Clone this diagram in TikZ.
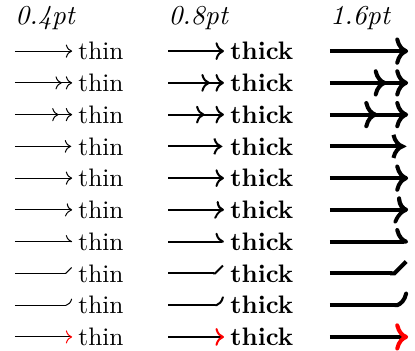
\documentclass[tikz,border=0pt]{standalone}
\usetikzlibrary{positioning, arrows.meta}

\begin{document}
\begin{tikzpicture}[
        x=1pt, y=1pt,
        head/.style={font=\fontsize{10.8}{13}\selectfont\itshape, anchor=west, inner sep=0pt},
        tiplabel/.style={anchor=west, inner sep=2.3pt}
    ]

        \useasboundingbox (0,0) rectangle (164,-138.7);

        \node[head] (w1) at (5.9,-7.1) {0.4pt};
        \node[head] (w2) at (66.4,-7.1) {0.8pt};
        \node[head] (w3) at (130.4,-7.1) {1.6pt};

        \foreach \tip [count=\i] in {{To}, {To[sep=1pt 1.5]To}, {To[sep=1.5pt 3.5]To}, {To[sharp]}, {To[round]},
                {To[slant=.15]}, {To[left]}, {Straight Barb[left,reversed]}, {To[left,reversed]}, {To[red]}} {
            \coordinate (a\i) at (5.9,{-20.2-12.55*(\i-1)});
            \node[tiplabel] (thin\i) at (28.5,{-20.2-12.55*(\i-1)}) {thin};
            \draw[line width=0.4pt, arrows/.expanded={-{\tip}}] (a\i) -- (thin\i.west);

            \coordinate (b\i) at (66.4,{-20.2-12.55*(\i-1)});
            \node[tiplabel] (thick\i) at (88.5,{-20.2-12.55*(\i-1)}) {\textbf{thick}};
            \draw[line width=0.8pt, arrows/.expanded={-{\tip}}] (b\i) -- (thick\i.west);

            \coordinate (c\i) at (130.4,{-20.2-12.55*(\i-1)});
            \coordinate (e\i) at (161.3,{-20.2-12.55*(\i-1)});
            \draw[line width=1.6pt, arrows/.expanded={-{\tip}}] (c\i) -- (e\i);
        }

    \end{tikzpicture}
\end{document}
